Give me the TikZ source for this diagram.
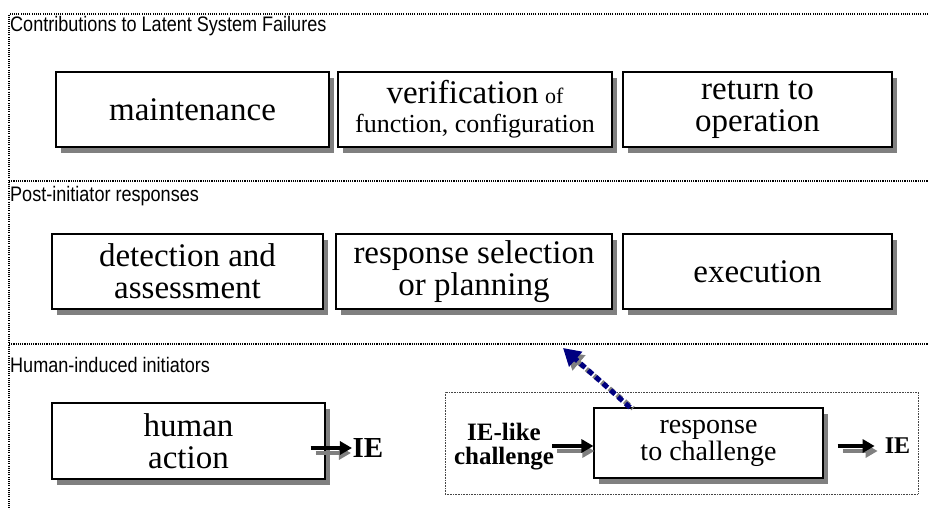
\documentclass[tikz,border=0pt]{standalone}
\usepackage{fontspec}
\usepackage{graphicx}
\setmainfont{Liberation Serif}
\newfontfamily\labelfont{Liberation Sans}
\usetikzlibrary{arrows.meta,shadows,calc}
\definecolor{shadowgray}{RGB}{128,128,128}
\definecolor{navyblue}{RGB}{0,0,128}
\definecolor{framegray}{RGB}{70,70,70}
\newcommand{\narrowlabel}[1]{\scalebox{0.86}[1]{#1}}
\begin{document}
\begin{tikzpicture}[x=1pt,y=-1pt,
  stagebox/.style={draw=black, line width=1.1pt, fill=white, align=center, inner sep=0pt,
     minimum height=75pt,
     drop shadow={shadow xshift=5pt, shadow yshift=-6pt, fill=shadowgray, opacity=1}},
  boxtext/.style={font=\fontsize{33}{32}\selectfont},
  zonelabel/.style={font=\labelfont\fontsize{21}{22}\selectfont, anchor=base west, inner sep=0pt},
  zoneline/.style={line width=1.1pt, dash pattern=on 1.1pt off 1.1pt},
  framebox/.style={draw=framegray, line width=0.8pt, dash pattern=on 0.8pt off 0.8pt, inner sep=0pt},
  flow/.style={line width=4pt, -{Triangle[length=12pt,width=13pt]}},
  flowshadow/.style={flow, draw=shadowgray, fill=shadowgray},
  feedback/.style={line width=5pt, navyblue, dash pattern=on 6pt off 4pt, -{Triangle[length=17pt,width=19pt]}},
  feedbackshadow/.style={line width=5pt, shadowgray, dash pattern=on 6pt off 4pt, dash phase=5pt, -{Triangle[length=17pt,width=19pt]}},
]
\useasboundingbox (0,0) rectangle (928,510);

% zone frames
\draw[zoneline] (928,14) -- (9,14) -- (9,510);
\draw[zoneline] (9,181) -- (928,181);
\draw[zoneline] (9,344) -- (928,344);

% zone labels
\node[zonelabel] (lab1) at (10,32) {\narrowlabel{Contributions to Latent System Failures}};
\node[zonelabel] (lab2) at (10,202) {\narrowlabel{Post-initiator responses}};
\node[zonelabel] (lab3) at (10,372) {\narrowlabel{Human-induced initiators}};

% row 1
\node[stagebox, boxtext, minimum width=273pt] (maint) at (192.5,109.5) {maintenance};
\node[stagebox, font=\fontsize{26}{29}\selectfont, minimum width=274pt] (verif) at (475,109.5)
  {{\fontsize{33}{29}\selectfont verification}~{\fontsize{22}{29}\selectfont of}\\function, configuration};
\node[stagebox, boxtext, minimum width=269pt] (ret) at (757.5,109.5) {return to\\operation};

% row 2
\node[stagebox, boxtext, minimum width=271pt] (detect) at (187.5,271.5) {detection and\\assessment};
\node[stagebox, boxtext, minimum width=276pt] (select) at (474,271.5) {response selection\\or planning};
\node[stagebox, boxtext, minimum width=269pt] (exec) at (757.5,271.5) {execution};

% row 3
\node[framebox, minimum width=473pt, minimum height=102pt] (ctx) at (681.5,443) {};
\node[stagebox, boxtext, minimum width=273pt, minimum height=76pt] (ha) at (188.5,441) {human\\action};
\node[font=\bfseries\fontsize{29}{30}\selectfont, inner sep=0pt] (ie1) at (368,448) {IE};
\node[font=\bfseries\fontsize{25}{24}\selectfont, align=center, inner sep=0pt] (chal) at (504,447) {IE-like\\challenge};
\node[stagebox, font=\fontsize{28}{27}\selectfont, minimum width=229pt, minimum height=70pt] (resp) at (708.5,443) {response\\to challenge};
\node[font=\bfseries\fontsize{24}{26}\selectfont, inner sep=0pt] (ie2) at (897.5,446) {IE};

% arrows: human action -> IE
\draw[flowshadow] ($(ha.east |- ie1.west)+(-10,5)$) -- ($(ie1.west)+(-1.5,5)$);
\draw[flow] ($(ha.east |- ie1.west)+(-15,0)$) -- ($(ie1.west)+(-0.5,0)$);

% challenge -> response
\draw[flowshadow] ($(resp.west)+(-36,8)$) -- ($(resp.west)+(1,8)$);
\draw[flow] ($(resp.west)+(-41,3)$) -- ($(resp.west)+(0,3)$);

% response -> IE
\draw[flowshadow] ($(resp.east |- ie2.west)+(19,5)$) -- ($(ie2.west)+(-7,5)$);
\draw[flow] ($(resp.east |- ie2.west)+(14,0)$) -- ($(ie2.west)+(-10,0)$);

% feedback to post-initiator responses
\coordinate (tip) at (563,348);
\draw[feedbackshadow] ($(resp.north)+(-75.5,1)$) -- ($(tip)+(3,4)$);
\draw[feedback] ($(resp.north)+(-78.5,0)$) -- (tip);
\end{tikzpicture}
\end{document}
